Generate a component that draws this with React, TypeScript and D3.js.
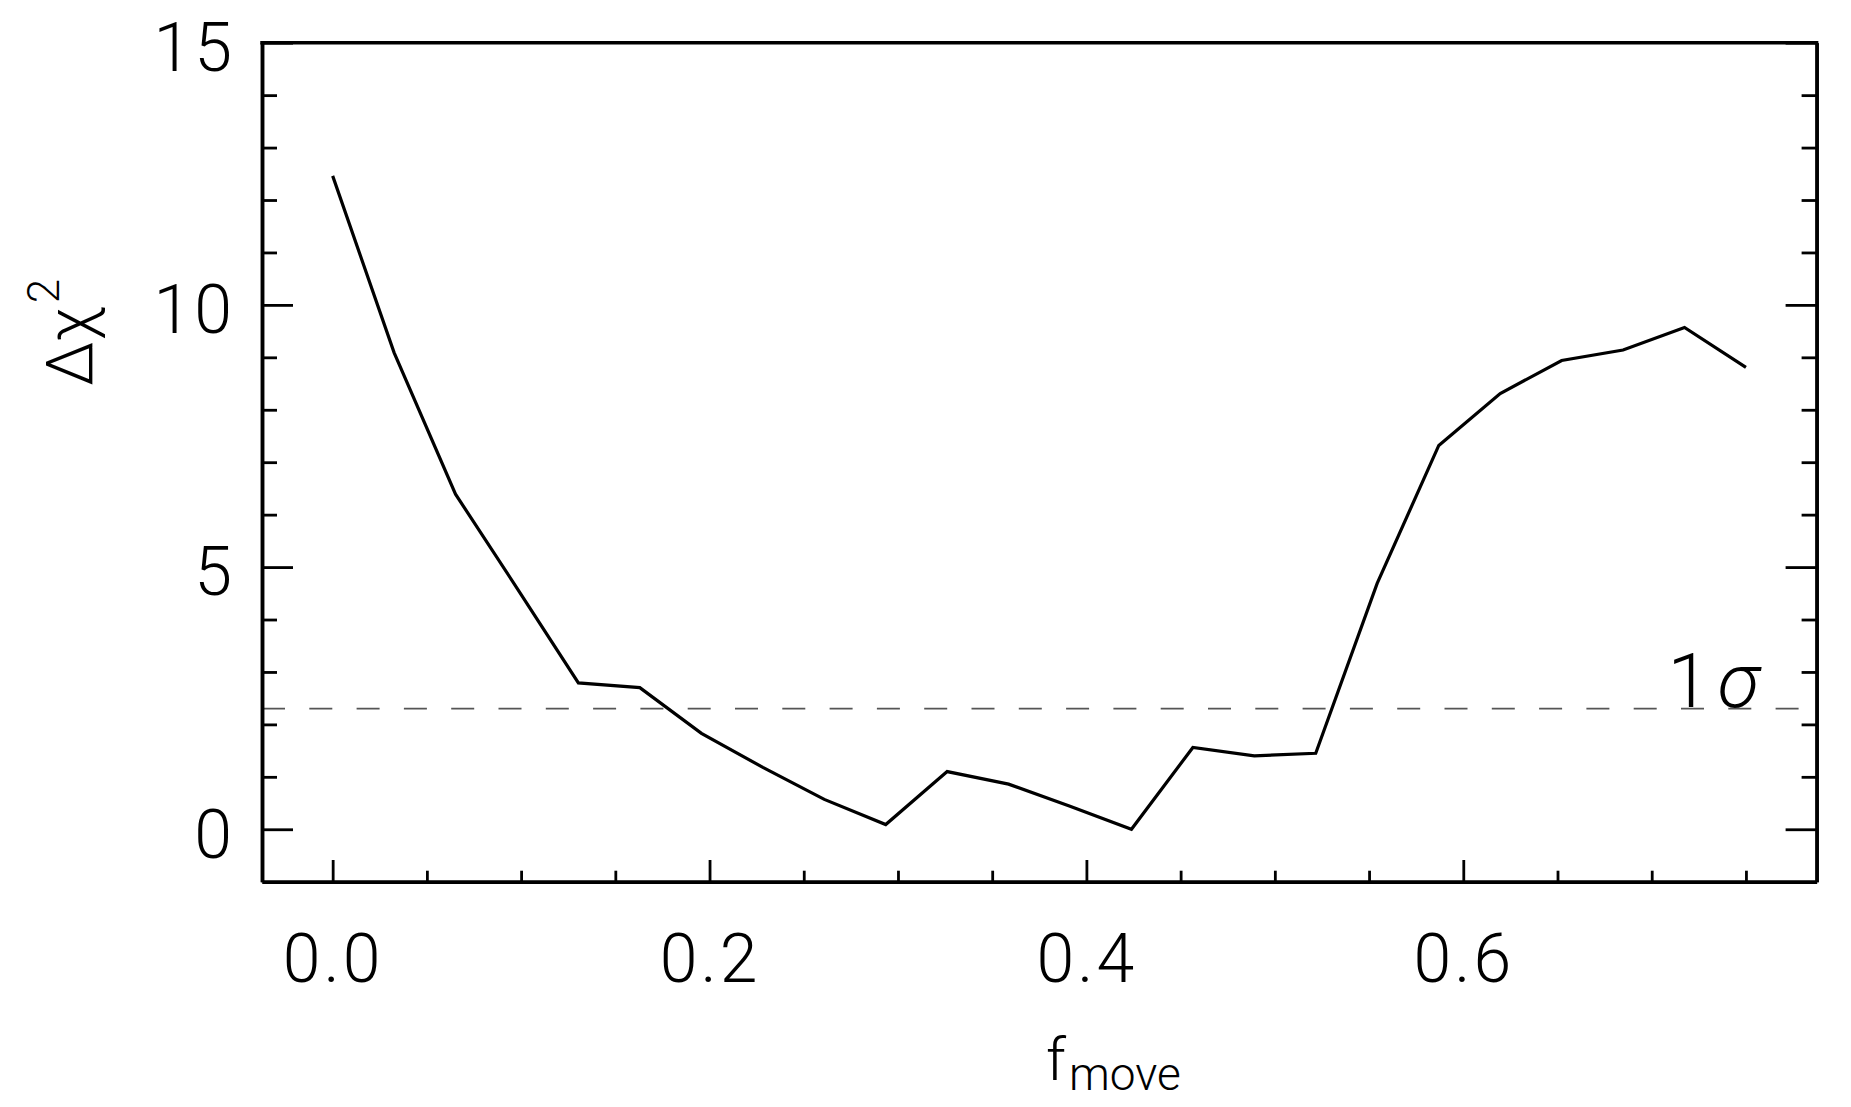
import React from 'react';
import * as d3 from 'd3';

// f_move grid (24 models) and the Delta chi^2
const fMove = [
  0, 0.0326, 0.0652, 0.0978, 0.1304, 0.163, 0.1957, 0.2283, 0.2609, 0.2935, 0.3261, 0.3587,
  0.3913, 0.4239, 0.4565, 0.4891, 0.5217, 0.5543, 0.587, 0.6196, 0.6522, 0.6848, 0.7174, 0.75,
];
const deltaChi2 = [
  12.46, 9.09, 6.39, 4.6, 2.79, 2.7, 1.83, 1.18, 0.57, 0.09, 1.1, 0.86,
  0.44, 0.0, 1.56, 1.4, 1.45, 4.69, 7.32, 8.31, 8.94, 9.14, 9.57, 8.81,
];

const xMajorTicks = [0, 0.2, 0.4, 0.6];
const xMinorTicks = [0.05, 0.1, 0.15, 0.25, 0.3, 0.35, 0.45, 0.5, 0.55, 0.65, 0.7, 0.75];
const yMajorTicks = [0, 5, 10, 15];
const yMinorTicks = [1, 2, 3, 4, 6, 7, 8, 9, 11, 12, 13, 14];
const oneSigmaLevel = 2.3;

const FONT = 'Roboto, "DejaVu Sans", sans-serif';

export default function App() {
  const width = 1851;
  const height = 1107;
  const margin = { top: 42.7, right: 34.4, bottom: 225.3, left: 262 };
  const innerWidth = width - margin.left - margin.right;
  const innerHeight = height - margin.top - margin.bottom;

  const xScale = d3.scaleLinear().domain([-0.0375, 0.7875]).range([0, innerWidth]);
  const yScale = d3.scaleLinear().domain([-1, 15]).range([innerHeight, 0]);

  const line = d3.line<number>()
    .x((d, i) => xScale(fMove[i]))
    .y((d) => yScale(d));

  const styleAxis = (node: SVGGElement | null, axis: any, labels: boolean, dy?: string) => {
    if (!node) return;
    const g = d3.select(node);
    g.call(axis);
    g.select('.domain').attr('stroke-width', 3.5).attr('stroke', '#000');
    g.selectAll('.tick line').attr('stroke-width', 2.8).attr('stroke', '#000');
    g.selectAll('.tick text')
      .attr('fill', '#000')
      .style('font-family', FONT)
      .style('font-weight', 300)
      .style('font-size', '68px')
      .style('letter-spacing', labels ? '3px' : '0px');
    if (dy) g.selectAll('.tick text').attr('dy', dy);
  };

  const xAxisMajor = d3.axisBottom(xScale).tickValues(xMajorTicks).tickSizeInner(-21.7)
    .tickSizeOuter(0).tickPadding(51.7).tickFormat(d3.format('.1f'));
  const xAxisMinor = d3.axisBottom(xScale).tickValues(xMinorTicks).tickSizeInner(-11)
    .tickSizeOuter(0).tickFormat(() => '');
  const yAxisMajor = d3.axisLeft(yScale).tickValues(yMajorTicks).tickSizeInner(-31)
    .tickSizeOuter(0).tickPadding(27).tickFormat(d3.format('d'));
  const yAxisMinor = d3.axisLeft(yScale).tickValues(yMinorTicks).tickSizeInner(-15)
    .tickSizeOuter(0).tickFormat(() => '');
  const yRightMajor = d3.axisRight(yScale).tickValues(yMajorTicks).tickSizeInner(-31)
    .tickSizeOuter(0).tickFormat(() => '');
  const yRightMinor = d3.axisRight(yScale).tickValues(yMinorTicks).tickSizeInner(-15)
    .tickSizeOuter(0).tickFormat(() => '');

  return (
    <svg
      width={width}
      height={height}
      style={{ position: 'absolute', left: 0, top: 0, background: '#fff' }}
    >
      <rect x={0} y={0} width={width} height={height} fill="#fff" />
      <g transform={`translate(${margin.left}, ${margin.top})`}>
        {/* 1 sigma level */}
        <line
          x1={0}
          x2={innerWidth}
          y1={yScale(oneSigmaLevel)}
          y2={yScale(oneSigmaLevel)}
          stroke="#555"
          strokeWidth={1.6}
          strokeDasharray="23 24.3"
        />
        <path d={line(deltaChi2) || ''} fill="none" stroke="#000" strokeWidth={3.2} strokeLinejoin="miter" />

        <g transform={`translate(0, ${innerHeight})`}>
          <g ref={(node) => styleAxis(node, xAxisMinor, false)} />
          <g ref={(node) => styleAxis(node, xAxisMajor, true)} />
        </g>
        <g ref={(node) => styleAxis(node, yAxisMinor, false)} />
        <g ref={(node) => styleAxis(node, yAxisMajor, true, '0.41em')} />
        <g transform={`translate(${innerWidth}, 0)`}>
          <g ref={(node) => styleAxis(node, yRightMinor, false)} />
          <g ref={(node) => styleAxis(node, yRightMajor, false)} />
        </g>
        {/* top frame, no ticks */}
        <line x1={-1.75} x2={innerWidth + 1.75} y1={0} y2={0} stroke="#000" strokeWidth={3.5} />

        <text
          x={xScale(0.7174) - 17}
          y={yScale(oneSigmaLevel) - 2}
          fontFamily={FONT}
          fontWeight={300}
          fontSize={76}
          fill="#000"
        >
          1<tspan dx={8} fontStyle="italic">σ</tspan>
        </text>
      </g>

      {/* axis titles */}
      <text
        transform="translate(92, 386) rotate(-90)"
        fontFamily={FONT}
        fontWeight={300}
        fontSize={64}
        fill="#000"
      >
        Δχ<tspan fontSize={44} dy={-33} dx={4}>2</tspan>
      </text>
      <text x={1046} y={1080} fontFamily={FONT} fontWeight={300} fontSize={60} fill="#000">
        f<tspan fontSize={46} dy={10} dx={3}>move</tspan>
      </text>
    </svg>
  );
}
